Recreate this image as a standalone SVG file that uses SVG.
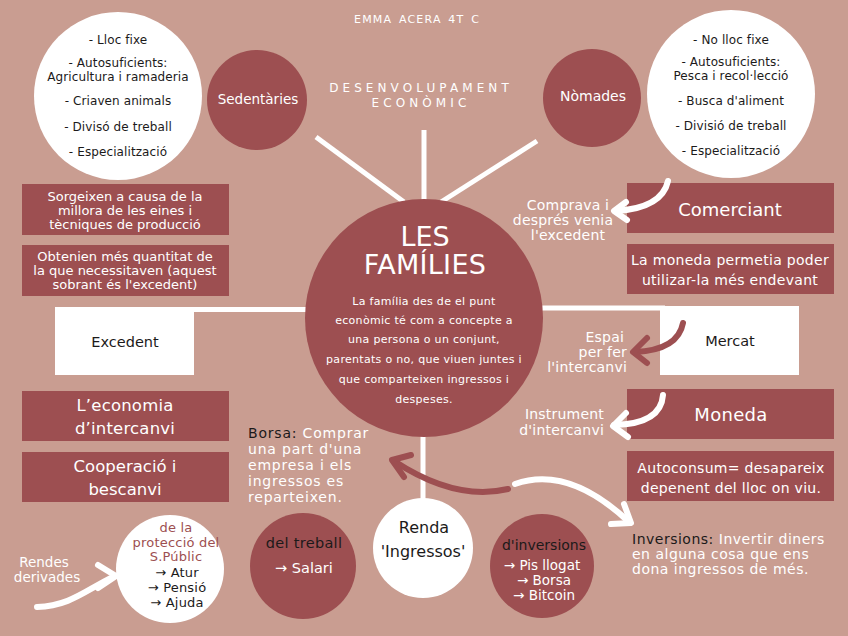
<svg xmlns="http://www.w3.org/2000/svg" width="848" height="636" viewBox="0 0 848 636">
<style>
text{font-family:"DejaVu Sans","Open Sans",sans-serif;}
.w{fill:#ffffff;}
.d{fill:#1c1a1a;}
.r{fill:#9d4f51;}
.c{text-anchor:middle;}
.e{text-anchor:end;}
.conn{stroke:#ffffff;stroke-width:5;fill:none;}
.aw{stroke:#ffffff;stroke-width:6;fill:none;stroke-linecap:round;stroke-linejoin:round;}
.ar{stroke:#9d4f51;stroke-width:6;fill:none;stroke-linecap:round;stroke-linejoin:round;}
</style>
<rect x="0" y="0" width="848" height="636" fill="#c99d91"/>

<g id="connectors">
<line class="conn" x1="424" y1="130" x2="424" y2="205"/>
<line class="conn" x1="316" y1="137" x2="404" y2="202"/>
<line class="conn" x1="537" y1="141" x2="441" y2="202"/>
<line class="conn" x1="190" y1="309.5" x2="320" y2="309.5"/>
<line class="conn" x1="530" y1="308" x2="665" y2="308"/>
<line class="conn" x1="423" y1="430" x2="423" y2="502"/>
</g>

<g id="title">
<text class="w c" x="417" y="23" font-size="11" letter-spacing="1.2" word-spacing="2">EMMA ACERA 4T C</text>
<text class="w c" x="421" y="92" font-size="12" letter-spacing="4.1">DESENVOLUPAMENT</text>
<text class="w c" x="421" y="107" font-size="12" letter-spacing="4.1">ECONÒMIC</text>
</g>

<g id="sedentaries-list">
<circle cx="118" cy="96" r="84" fill="#ffffff"/>
<g class="d c" font-size="12" letter-spacing="0.1">
<text x="118" y="44">- Lloc fixe</text>
<text x="118" y="67">- Autosuficients:</text>
<text x="118" y="81">Agricultura i ramaderia</text>
<text x="118" y="105">- Criaven animals</text>
<text x="118" y="131">- Divisó de treball</text>
<text x="118" y="156">- Especialització</text>
</g>
</g>

<g id="sedentaries">
<circle cx="257" cy="100" r="50" fill="#9d4f51"/>
<text class="w c" x="258" y="104" font-size="13.5">Sedentàries</text>
</g>

<g id="nomades">
<circle cx="592" cy="98" r="49" fill="#9d4f51"/>
<text class="w c" x="593" y="101" font-size="14">Nòmades</text>
</g>

<g id="nomades-list">
<circle cx="731" cy="94" r="84" fill="#ffffff"/>
<g class="d c" font-size="12" letter-spacing="0.1">
<text x="731" y="44">- No lloc fixe</text>
<text x="731" y="66">- Autosuficients:</text>
<text x="731" y="80">Pesca i recol·lecció</text>
<text x="731" y="105">- Busca d'aliment</text>
<text x="731" y="130">- Divisió de treball</text>
<text x="731" y="155">- Especialització</text>
</g>
</g>

<g id="sorgeixen">
<rect x="22" y="184" width="207" height="51" fill="#9d4f51"/>
<g class="w c" font-size="13">
<text x="125" y="201">Sorgeixen a causa de la</text>
<text x="125" y="215">millora de les eines i</text>
<text x="125" y="229">tècniques de producció</text>
</g>
</g>

<g id="obtenien">
<rect x="22" y="245" width="207" height="51" fill="#9d4f51"/>
<g class="w c" font-size="13">
<text x="125" y="261">Obtenien més quantitat de</text>
<text x="125" y="275">la que necessitaven (aquest</text>
<text x="125" y="289">sobrant és l'excedent)</text>
</g>
</g>

<g id="excedent">
<rect x="55" y="307" width="139" height="68" fill="#ffffff"/>
<text class="d c" x="125" y="347" font-size="14.5">Excedent</text>
</g>

<g id="economia">
<rect x="22" y="391" width="207" height="50" fill="#9d4f51"/>
<text class="w c" x="125" y="411" font-size="16.5" letter-spacing="0.2">L’economia</text>
<text class="w c" x="125" y="434" font-size="16.5" letter-spacing="0.2">d’intercanvi</text>
</g>

<g id="cooperacio">
<rect x="22" y="452" width="207" height="50" fill="#9d4f51"/>
<text class="w c" x="125" y="472" font-size="16.5">Cooperació i</text>
<text class="w c" x="125" y="495" font-size="16.5">bescanvi</text>
</g>

<g id="families">
<circle cx="424" cy="318" r="119" fill="#9d4f51"/>
<text class="w c" x="425" y="246" font-size="27">LES</text>
<text class="w c" x="425" y="274" font-size="27" letter-spacing="0.3">FAMÍLIES</text>
<g class="w c" font-size="11" letter-spacing="0.3">
<text x="424" y="304.5">La família des de el punt</text>
<text x="424" y="323.5">econòmic té com a concepte a</text>
<text x="424" y="342.5">una persona o un conjunt,</text>
<text x="424" y="362.5">parentats o no, que viuen juntes i</text>
<text x="424" y="382.5">que comparteixen ingressos i</text>
<text x="424" y="402.5">despeses.</text>
</g>
</g>

<g id="comerciant">
<rect x="627" y="183" width="207" height="50" fill="#9d4f51"/>
<text class="w c" x="730" y="216" font-size="18">Comerciant</text>
</g>

<g id="moneda-permetia">
<rect x="627" y="244" width="207" height="50" fill="#9d4f51"/>
<text class="w c" x="730" y="265" font-size="14" letter-spacing="0.3">La moneda permetia poder</text>
<text class="w c" x="730" y="285" font-size="14" letter-spacing="0.3">utilizar-la més endevant</text>
</g>

<g id="mercat">
<rect x="660" y="306" width="139" height="69" fill="#ffffff"/>
<text class="d c" x="730" y="346" font-size="14.5">Mercat</text>
</g>

<g id="moneda">
<rect x="627" y="389" width="207" height="50" fill="#9d4f51"/>
<text class="w c" x="731" y="421" font-size="18" letter-spacing="0.3">Moneda</text>
</g>

<g id="autoconsum">
<rect x="627" y="451" width="207" height="50" fill="#9d4f51"/>
<text class="w c" x="731" y="473" font-size="14" letter-spacing="0.3">Autoconsum= desapareix</text>
<text class="w c" x="731" y="493" font-size="14" letter-spacing="0.3">depenent del lloc on viu.</text>
</g>

<g id="labels">
<g class="w c" font-size="14" letter-spacing="0.2">
<text x="568" y="210">Comprava i</text>
<text x="563" y="225">després venia</text>
<text x="568" y="240">l'excedent</text>
</g>
<g class="w e" font-size="14" letter-spacing="0.2">
<text x="624" y="342">Espai</text>
<text x="627" y="357">per fer</text>
<text x="627" y="372">l'intercanvi</text>
<text x="604" y="419">Instrument</text>
<text x="604" y="435">d'intercanvi</text>
</g>
<g font-size="14" letter-spacing="0.8">
<text x="248" y="438"><tspan class="d">Borsa:</tspan><tspan class="w"> Comprar</tspan></text>
<text class="w" x="248" y="454">una part d'una</text>
<text class="w" x="248" y="470">empresa i els</text>
<text class="w" x="248" y="486">ingressos es</text>
<text class="w" x="248" y="502">reparteixen.</text>
</g>
<g font-size="14" letter-spacing="0.5">
<text x="632" y="544"><tspan class="d">Inversions:</tspan><tspan class="w"> Invertir diners</tspan></text>
<text class="w" x="632" y="559">en alguna cosa que ens</text>
<text class="w" x="632" y="574">dona ingressos de més.</text>
</g>
<g class="w c" font-size="13.5">
<text x="44" y="567">Rendes</text>
<text x="47" y="582">derivades</text>
</g>
</g>

<g id="arrows">
<path class="aw" d="M668,181 Q662,208 616,211"/>
<path class="aw" d="M626,202 L614,211 L627,220"/>
<path class="ar" d="M683,323 Q678,350 635,352"/>
<path class="ar" d="M647,338 L633,352 L647,363"/>
<path class="aw" d="M663,395 Q661,424 614,425"/>
<path class="aw" d="M626,413 L613,426 L628,437"/>
<path class="ar" d="M508,489 C470,498 432,486 394,461"/>
<path class="ar" d="M411,455 L392,460 L404,477"/>
<path class="aw" d="M515,484 C560,468 600,495 628,521"/>
<path class="aw" d="M624,504 L631,523 L611,524"/>
<path class="aw" d="M37,607 C70,606 86,590 113,577"/>
<path class="aw" d="M98,565 L116,576 L98,588"/>
</g>

<g id="proteccio">
<circle cx="170" cy="569" r="54" fill="#ffffff"/>
<g class="r c" font-size="13" letter-spacing="0.2">
<text x="176" y="532">de la</text>
<text x="176" y="546.5">protecció del</text>
<text x="176" y="560.5">S.Públic</text>
</g>
<g class="d c" font-size="13" letter-spacing="0.2">
<text x="177" y="576.5">→ Atur</text>
<text x="177" y="591.5">→ Pensió</text>
<text x="177" y="606.5">→ Ajuda</text>
</g>
</g>

<g id="treball">
<circle cx="303" cy="566" r="53" fill="#9d4f51"/>
<text class="d c" x="304" y="548" font-size="14.5" letter-spacing="0.3">del treball</text>
<text class="w c" x="304" y="573" font-size="14.5">→ Salari</text>
</g>

<g id="renda">
<circle cx="423" cy="548" r="50" fill="#ffffff"/>
<text class="d c" x="424" y="533" font-size="16">Renda</text>
<text class="d c" x="423" y="557" font-size="16">'Ingressos'</text>
</g>

<g id="inversions">
<circle cx="542" cy="566" r="52" fill="#9d4f51"/>
<text class="d c" x="544" y="550" font-size="14">d'inversions</text>
<g class="w c" font-size="13.5">
<text x="542" y="570">→ Pis llogat</text>
<text x="544" y="585">→ Borsa</text>
<text x="544" y="599.5">→ Bitcoin</text>
</g>
</g>
</svg>
